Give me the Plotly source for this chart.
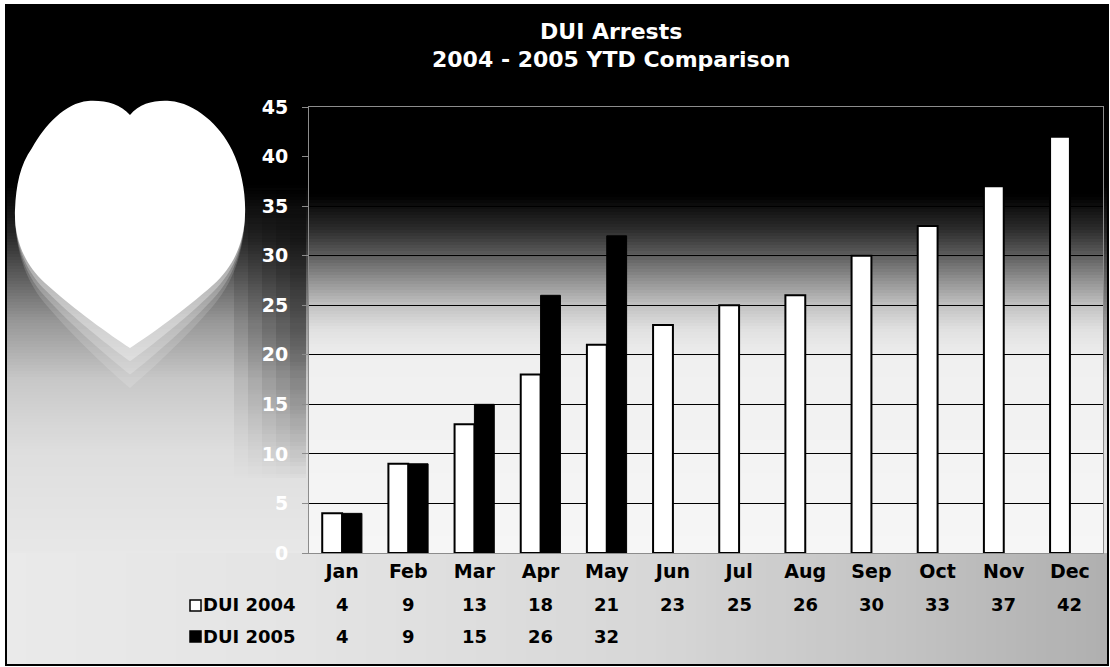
import numpy as np
import plotly.graph_objects as go

# ---- data ----
months = ["Jan", "Feb", "Mar", "Apr", "May", "Jun", "Jul", "Aug", "Sep", "Oct", "Nov", "Dec"]
dui_2004 = [4, 9, 13, 18, 21, 23, 25, 26, 30, 33, 37, 42]
dui_2005 = [4, 9, 15, 26, 32]
series_names = ["DUI 2004", "DUI 2005"]
title_lines = ["DUI Arrests", "2004 - 2005 YTD Comparison"]

W, H = 1110, 667
FONT = "DejaVu Sans"


def px_x(x):
    return x / W


def px_y(y):
    return 1 - y / H


shapes = []


def gray(v):
    v = int(round(v))
    return f"rgb({v},{v},{v})"


def vertical_gradient(x0, x1, y0, y1, stops_y, stops_v, step=3):
    y = y0
    while y < y1:
        mid = y + step / 2
        v = float(np.interp(mid, stops_y, stops_v))
        shapes.append(dict(type="rect", xref="paper", yref="paper",
                           x0=px_x(x0), x1=px_x(x1),
                           y0=px_y(min(y + step + 1, y1)), y1=px_y(y),
                           fillcolor=gray(v), line=dict(width=0), layer="below"))
        y += step


def vertical_shade(x0, x1, y0, y1, stops_y, stops_a, step=4):
    # translucent black band whose opacity follows the given stops
    y = y0
    while y < y1:
        mid = y + step / 2
        a = float(np.interp(mid, stops_y, stops_a))
        shapes.append(dict(type="rect", xref="paper", yref="paper",
                           x0=px_x(x0), x1=px_x(x1),
                           y0=px_y(min(y + step, y1)), y1=px_y(y),
                           fillcolor=f"rgba(0,0,0,{a:.3f})", line=dict(width=0), layer="below"))
        y += step


def horizontal_gradient(x0, x1, y0, y1, stops_x, stops_v, step=10):
    x = x0
    while x < x1:
        mid = x + step / 2
        v = float(np.interp(mid, stops_x, stops_v))
        shapes.append(dict(type="rect", xref="paper", yref="paper",
                           x0=px_x(x), x1=px_x(min(x + step + 1, x1)),
                           y0=px_y(y1), y1=px_y(y0),
                           fillcolor=gray(v), line=dict(width=0), layer="below"))
        x += step


def curve_path(points, sx=1.0, sy=1.0, cx=130, cy=215, close=True):
    pts = [f"{px_x(cx + (x - cx) * sx):.5f},{px_y(cy + (y - cy) * sy):.5f}"
           for x, y in points]
    p = "M " + pts[0]
    for i in range(1, len(pts), 3):
        p += " C " + " ".join(pts[i:i + 3])
    return p + (" Z" if close else "")


# chart-area background: black at the top fading to light grey
vertical_gradient(6, 1108, 5, 556,
                  [5, 185, 230, 270, 320, 380, 450, 556],
                  [0, 0, 35, 85, 150, 200, 222, 232])
# darker band behind the value-axis labels, fading out to the left
for left in [290, 276, 262, 248, 234]:
    vertical_shade(left, 306, 190, 480, [190, 240, 330, 400, 480],
                   [0.0, 0.12, 0.11, 0.06, 0.0])
# data-table strip, darker toward the right
horizontal_gradient(6, 1108, 553, 665,
                    [6, 300, 650, 900, 1108],
                    [234, 228, 215, 195, 175])

# white apple silhouette on the left
blob = [(130, 115),
        (140, 103), (155, 100), (170, 101),
        (195, 103), (220, 125), (232, 150),
        (242, 170), (246, 195), (245, 215),
        (244, 245), (232, 268), (213, 285),
        (185, 310), (150, 335), (130, 348),
        (110, 335), (75, 310), (45, 283),
        (25, 265), (14, 240), (15, 210),
        (16, 185), (20, 165), (32, 148),
        (45, 125), (65, 103), (88, 101),
        (105, 100), (120, 104), (130, 115)]
# lower contour only, used for the soft glow that spills downward
lower = blob[9:22]
for sy, op in [(1.30, 0.15), (1.20, 0.22), (1.10, 0.32)]:
    shapes.append(dict(type="path", xref="paper", yref="paper",
                       path=curve_path(lower, sx=1.0, sy=sy),
                       fillcolor=f"rgba(255,255,255,{op})", line=dict(width=0), layer="below"))
shapes.append(dict(type="path", xref="paper", yref="paper", path=curve_path(blob),
                   fillcolor="white", line=dict(width=0), layer="below"))

# plot-area background
vertical_gradient(309, 1103, 107, 553,
                  [107, 195, 230, 256, 280, 306, 330, 360, 553],
                  [0, 0, 45, 95, 145, 195, 225, 240, 246])

# legend keys of the data table
shapes.append(dict(type="rect", xref="paper", yref="paper",
                   x0=px_x(190), x1=px_x(201), y0=px_y(611), y1=px_y(600),
                   fillcolor="white", line=dict(color="black", width=1.5), layer="above"))
shapes.append(dict(type="rect", xref="paper", yref="paper",
                   x0=px_x(190), x1=px_x(201), y0=px_y(642), y1=px_y(631),
                   fillcolor="black", line=dict(color="black", width=1.5), layer="above"))

# chart frame
shapes.append(dict(type="rect", xref="paper", yref="paper",
                   x0=px_x(6), x1=px_x(1108), y0=px_y(665), y1=px_y(5),
                   fillcolor="rgba(0,0,0,0)", line=dict(color="black", width=2), layer="above"))

fig = go.Figure()
fig.add_trace(go.Bar(x=months, y=dui_2004, name=series_names[0],
                     marker=dict(color="white", line=dict(color="black", width=2))))
fig.add_trace(go.Bar(x=months[:len(dui_2005)], y=dui_2005, name=series_names[1],
                     marker=dict(color="black", line=dict(color="black", width=1))))

annotations = []
# two-line title
for text, ty in zip(title_lines, [31, 59]):
    annotations.append(dict(text=f"<b>{text}</b>", x=px_x(611), y=px_y(ty),
                            xref="paper", yref="paper", showarrow=False,
                            xanchor="center", yanchor="middle", borderpad=0,
                            font=dict(family=FONT, size=22, color="white")))

# data table rows
row_y = [604, 636]
for name, values, ry in zip(series_names, [dui_2004, dui_2005], row_y):
    annotations.append(dict(text=f"<b>{name}</b>", x=px_x(298), y=px_y(ry),
                            xref="paper", yref="paper", showarrow=False,
                            xanchor="right", yanchor="middle",
                            font=dict(family=FONT, size=18, color="black")))
    for m, v in zip(months, values):
        annotations.append(dict(text=f"<b>{v}</b>", x=m, y=px_y(ry),
                                xref="x", yref="paper", showarrow=False,
                                xanchor="center", yanchor="middle",
                                font=dict(family=FONT, size=18, color="black")))

fig.update_layout(
    width=W, height=H,
    margin=dict(l=0, r=0, t=0, b=0, pad=0),
    paper_bgcolor="white",
    plot_bgcolor="rgba(0,0,0,0)",
    barmode="group", bargap=0.40, bargroupgap=0.0,
    showlegend=False,
    shapes=shapes,
    annotations=annotations,
    xaxis=dict(domain=[px_x(309), px_x(1103)], type="category",
               categoryorder="array", categoryarray=months,
               showgrid=False, ticks="", showline=True, mirror=True,
               linecolor="#8c8c8c", linewidth=1, automargin=False,
               ticklabelstandoff=1,
               tickfont=dict(family=FONT, size=19, color="black", weight="bold")),
    yaxis=dict(domain=[px_y(553), px_y(107)], range=[0, 45], dtick=5,
               showgrid=True, gridcolor="black", gridwidth=1, zeroline=False,
               ticks="outside", ticklen=6, tickcolor="#8c8c8c",
               showline=True, mirror=True, linecolor="#8c8c8c", linewidth=1,
               automargin=False, ticklabelstandoff=10,
               tickfont=dict(family=FONT, size=19, color="white", weight="bold")),
)

fig.write_html("out.html")
